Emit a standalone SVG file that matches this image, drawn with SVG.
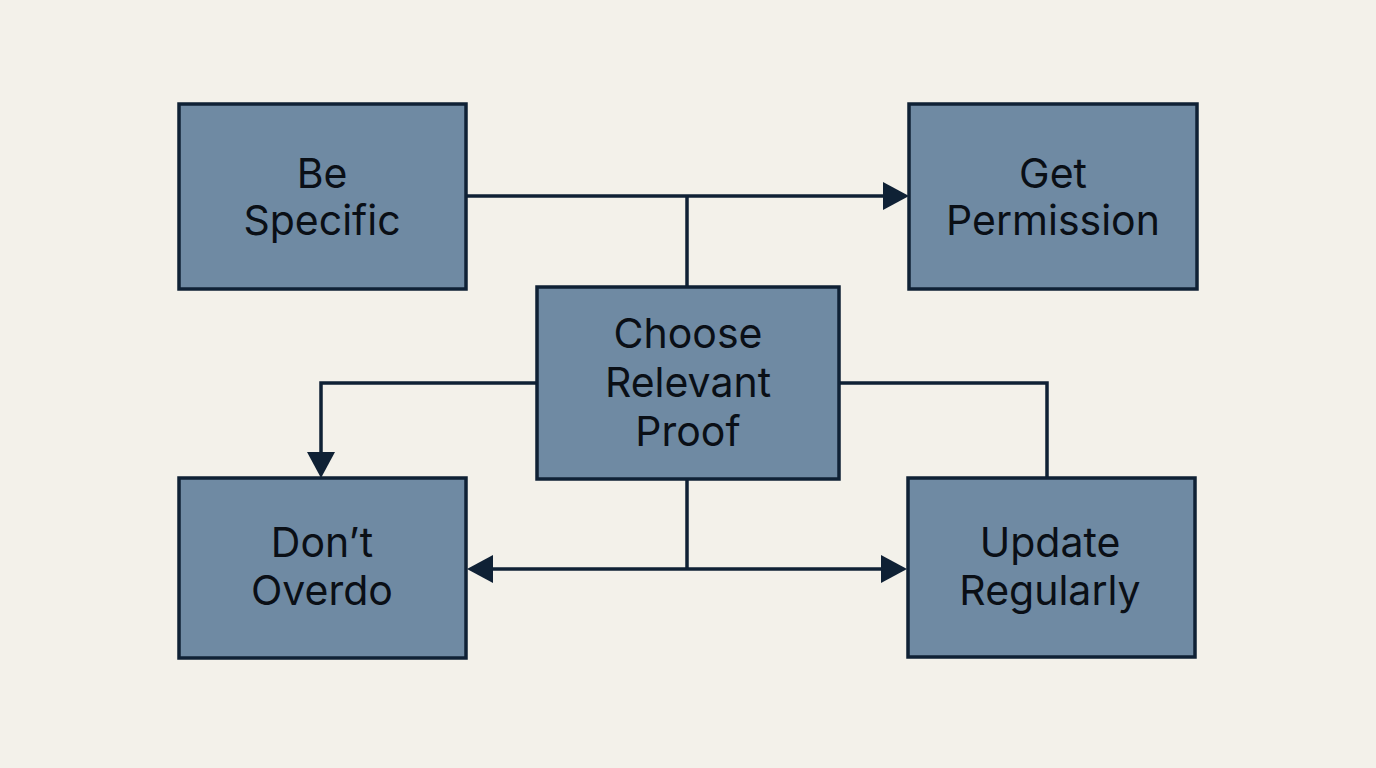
<svg xmlns="http://www.w3.org/2000/svg" width="1376" height="768" viewBox="0 0 1376 768">
<style>
.box{fill:#6f8aa3;stroke:#0f2135;stroke-width:3.5}
.lbl{font-family:Inter,"Open Sans","Liberation Sans",sans-serif;font-size:41px;font-weight:400;fill:#0a0f16;text-anchor:middle}
.ln{fill:none;stroke:#0f2135;stroke-width:3.5}
.ah{fill:#0f2135}
</style>
<rect width="1376" height="768" fill="#f3f1ea"/>
<g id="connectors">
<path class="ln" d="M466 196 H884"/>
<path class="ln" d="M687 196 V287"/>
<polygon class="ah" points="909,196 883,182 883,210"/>
<path class="ln" d="M537 383 H321 V452"/>
<polygon class="ah" points="321,478 307,452 335,452"/>
<path class="ln" d="M839 383 H1047 V478"/>
<path class="ln" d="M687 479 V569"/>
<path class="ln" d="M492 569 H882"/>
<polygon class="ah" points="467,569 493,555 493,583"/>
<polygon class="ah" points="907,569 881,555 881,583"/>
</g>
<g id="be-specific">
<rect class="box" x="179" y="104" width="287" height="185"/>
<text class="lbl" x="322" y="188">Be</text>
<text class="lbl" x="322" y="235">Specific</text>
</g>
<g id="get-permission">
<rect class="box" x="909" y="104" width="288" height="185"/>
<text class="lbl" x="1053" y="188">Get</text>
<text class="lbl" x="1053" y="235">Permission</text>
</g>
<g id="choose-relevant-proof">
<rect class="box" x="537" y="287" width="302" height="192"/>
<text class="lbl" x="688" y="348">Choose</text>
<text class="lbl" x="688" y="397">Relevant</text>
<text class="lbl" x="688" y="446">Proof</text>
</g>
<g id="dont-overdo">
<rect class="box" x="179" y="478" width="287" height="180"/>
<text class="lbl" x="322" y="557">Don’t</text>
<text class="lbl" x="322" y="605">Overdo</text>
</g>
<g id="update-regularly">
<rect class="box" x="908" y="478" width="287" height="179"/>
<text class="lbl" x="1050" y="557">Update</text>
<text class="lbl" x="1050" y="605">Regularly</text>
</g>
</svg>
